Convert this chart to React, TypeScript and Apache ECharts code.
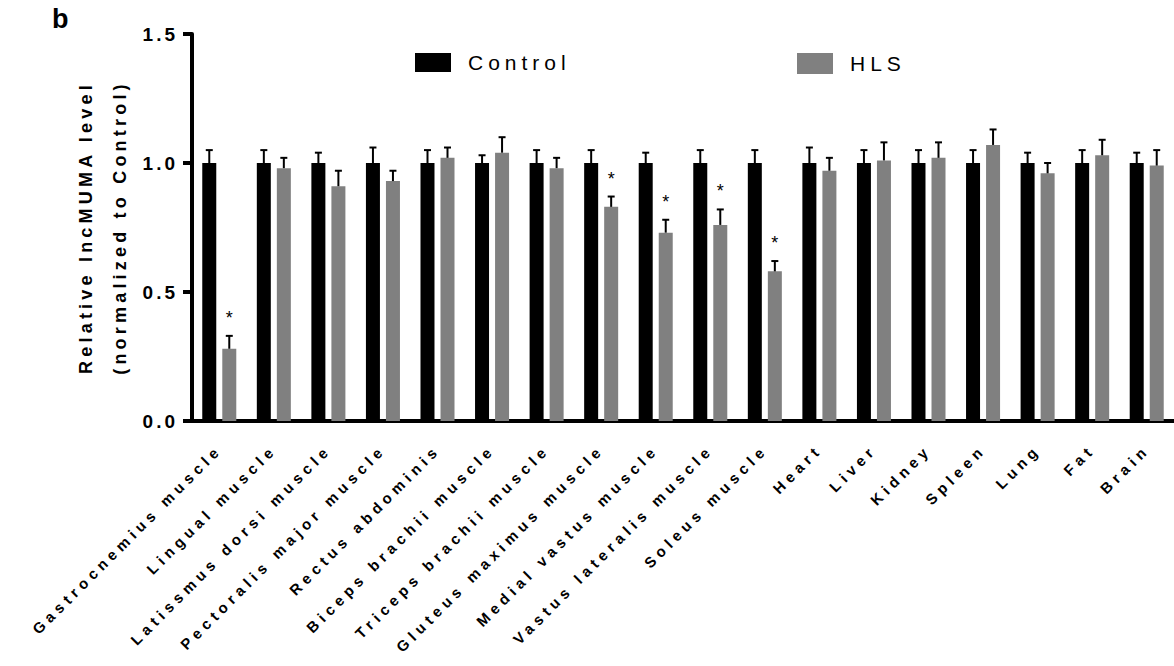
import React, { useEffect, useRef } from "react";
import * as echarts from "echarts";

const categories = [
  "Gastrocnemius muscle",
  "Lingual muscle",
  "Latissmus dorsi muscle",
  "Pectoralis major muscle",
  "Rectus abdominis",
  "Biceps brachii muscle",
  "Triceps brachii muscle",
  "Gluteus maximus muscle",
  "Medial vastus muscle",
  "Vastus lateralis muscle",
  "Soleus muscle",
  "Heart",
  "Liver",
  "Kidney",
  "Spleen",
  "Lung",
  "Fat",
  "Brain",
];
const seriesNames = ["Control", "HLS"];
const controlMean = [1, 1, 1, 1, 1, 1, 1, 1, 1, 1, 1, 1, 1, 1, 1, 1, 1, 1];
const controlErr = [0.05, 0.05, 0.04, 0.06, 0.05, 0.03, 0.05, 0.05, 0.04, 0.05, 0.05, 0.06, 0.05, 0.05, 0.05, 0.04, 0.05, 0.04];
const hlsMean = [0.28, 0.98, 0.91, 0.93, 1.02, 1.04, 0.98, 0.83, 0.73, 0.76, 0.58, 0.97, 1.01, 1.02, 1.07, 0.96, 1.03, 0.99];
const hlsErr = [0.05, 0.04, 0.06, 0.04, 0.04, 0.06, 0.04, 0.04, 0.05, 0.06, 0.04, 0.05, 0.07, 0.06, 0.06, 0.04, 0.06, 0.06];
const significant = [true, false, false, false, false, false, false, true, true, true, true, false, false, false, false, false, false, false];
const yTitleLines = ["Relative lncMUMA level", "(normalized to Control)"];
const yMin = 0;
const yMax = 1.5;
const yInterval = 0.5;

const FONT = "'Liberation Sans', Arial, sans-serif";
const BLACK = "#000000";
const GREY = "#808080";

function errorSeries(means: number[], errs: number[], offset: number) {
  return {
    type: "custom",
    silent: true,
    z: 3,
    data: means.map((m, i) => [i, m, m + errs[i]]),
    renderItem: (params: any, api: any) => {
      const i = api.value(0);
      const base = api.coord([i, api.value(1)]);
      const top = api.coord([i, api.value(2)]);
      const x = base[0] + offset;
      return {
        type: "group",
        children: [
          { type: "line", shape: { x1: x, y1: base[1], x2: x, y2: top[1] }, style: { stroke: BLACK, lineWidth: 2 } },
          { type: "line", shape: { x1: x - 3.5, y1: top[1], x2: x + 3.5, y2: top[1] }, style: { stroke: BLACK, lineWidth: 2 } },
        ],
      };
    },
  };
}

function spacingFor(t: string): number {
  if (categories.includes(t)) return 4.8;
  if (seriesNames.includes(t)) return 5;
  if (yTitleLines.includes(t)) return 4.2;
  if (/^\d\.\d$/.test(t)) return 3;
  return 0;
}

export default function App() {
  const ref = useRef<HTMLDivElement>(null);
  useEffect(() => {
    const el = ref.current;
    if (!el) return;
    const chart = echarts.init(el, null, { renderer: "svg" });
    const starData = hlsMean
      .map((m, i) => [i, m + hlsErr[i], significant[i] ? 1 : 0])
      .filter((d) => d[2] === 1);
    const applySpacing = () => {
      el.querySelectorAll("text").forEach((t) => {
        const s = spacingFor((t.textContent || "").trim());
        if (s) t.setAttribute("letter-spacing", String(s));
      });
    };
    chart.on("finished", applySpacing);
    chart.setOption({
      animation: false,
      backgroundColor: "#ffffff",
      textStyle: { fontFamily: FONT },
      graphic: [
        {
          type: "text",
          left: 52,
          top: 5,
          style: { text: "b", font: `bold 27px ${FONT}`, fill: BLACK },
        },
      ],
      legend: [
        {
          data: [seriesNames[0]],
          left: 410,
          top: 47,
          icon: "rect",
          itemWidth: 36,
          itemHeight: 19,
          textStyle: { fontSize: 21, color: BLACK, fontFamily: FONT, padding: [8, 0, 0, 12] },
        },
        {
          data: [seriesNames[1]],
          left: 792,
          top: 48,
          icon: "rect",
          itemWidth: 36,
          itemHeight: 21,
          textStyle: { fontSize: 21, color: BLACK, fontFamily: FONT, padding: [8, 0, 0, 12] },
        },
      ],
      grid: { left: 192, right: 0, top: 34, bottom: 245, containLabel: false },
      xAxis: {
        type: "category",
        data: categories,
        axisLine: { lineStyle: { color: BLACK, width: 4 } },
        axisTick: { alignWithLabel: true, length: 9, lineStyle: { color: BLACK, width: 3.5 } },
        axisLabel: {
          interval: 0,
          rotate: 45,
          margin: 26,
          fontSize: 15,
          fontWeight: "bold",
          color: BLACK,
          fontFamily: FONT,
        },
      },
      yAxis: {
        type: "value",
        min: yMin,
        max: yMax,
        interval: yInterval,
        name: yTitleLines.join("\n"),
        nameLocation: "middle",
        nameRotate: 90,
        nameGap: 55,
        nameTextStyle: { fontSize: 18, fontWeight: "bold", color: BLACK, lineHeight: 34, fontFamily: FONT },
        splitLine: { show: false },
        axisLine: { show: true, lineStyle: { color: BLACK, width: 4 } },
        axisTick: { show: true, length: 9, lineStyle: { color: BLACK, width: 4 } },
        axisLabel: {
          margin: 14,
          fontSize: 19,
          fontWeight: "bold",
          color: BLACK,
          fontFamily: FONT,
          formatter: (v: number) => v.toFixed(1),
        },
      },
      series: [
        {
          name: seriesNames[0],
          type: "bar",
          data: controlMean,
          barWidth: 14,
          barGap: "43%",
          itemStyle: { color: BLACK },
        },
        {
          name: seriesNames[1],
          type: "bar",
          data: hlsMean,
          barWidth: 14,
          barGap: "43%",
          itemStyle: { color: GREY },
        },
        errorSeries(controlMean, controlErr, -10),
        errorSeries(hlsMean, hlsErr, 10),
        {
          type: "custom",
          silent: true,
          z: 4,
          data: starData,
          renderItem: (params: any, api: any) => {
            const p = api.coord([api.value(0), api.value(1)]);
            return {
              type: "text",
              x: p[0] + 10,
              y: p[1] - 18,
              style: { text: "*", font: `18px ${FONT}`, fill: BLACK, align: "center", verticalAlign: "middle" },
            };
          },
        },
      ],
    });
    applySpacing();
    const raf = requestAnimationFrame(applySpacing);
    return () => {
      cancelAnimationFrame(raf);
      chart.dispose();
    };
  }, []);
  return (
    <div
      ref={ref}
      style={{ position: "absolute", left: 0, top: 0, width: 1174, height: 666, background: "#fff" }}
    />
  );
}
